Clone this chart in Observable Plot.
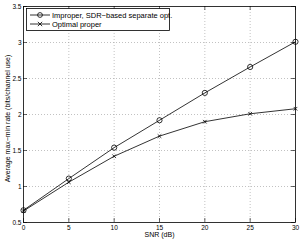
<!DOCTYPE html>
<html><head><meta charset="utf-8">
<script src="https://cdn.jsdelivr.net/npm/d3@7"></script>
<script src="https://cdn.jsdelivr.net/npm/@observablehq/plot@0.6"></script>
<style>
body{margin:0;background:#fff;}
#wrap{position:relative;width:302px;height:241px;font-family:"Liberation Sans",Arial,sans-serif;}
#legend{position:absolute;left:0;top:0;pointer-events:none;}
</style></head>
<body><div id="wrap"></div>
<script>
const snr = [0, 5, 10, 15, 20, 25, 30];
const improper = [0.67, 1.11, 1.54, 1.92, 2.30, 2.66, 3.01];
const optimal = [0.66, 1.06, 1.42, 1.70, 1.90, 2.01, 2.08];
const seriesNames = ["Improper, SDR\u2212based separate opt.", "Optimal proper"];
const xTicks = [0, 5, 10, 15, 20, 25, 30];
const yTicks = [0.5, 1, 1.5, 2, 2.5, 3, 3.5];

const W = 302, H = 241, mL = 23, mR = 7, mT = 6, mB = 19;
const pw = W - mL - mR, ph = H - mT - mB;
const rows = [];
snr.forEach((s, i) => { rows.push({snr: s, v: improper[i], s: seriesNames[0]}); rows.push({snr: s, v: optimal[i], s: seriesNames[1]}); });
const A = rows.filter(d => d.s === seriesNames[0]);
const B = rows.filter(d => d.s === seriesNames[1]);
const tk = 4;
const chart = Plot.plot({
  width: W, height: H, marginLeft: mL, marginRight: mR, marginTop: mT, marginBottom: mB,
  style: {fontFamily: '"Liberation Sans", Arial, sans-serif', fontSize: "7px", background: "#fff", overflow: "visible"},
  x: {domain: [0, 30]},
  y: {domain: [0.5, 3.5]},
  marks: [
    Plot.gridX(xTicks.slice(1, -1), {stroke: "#999", strokeOpacity: 1, strokeDasharray: "1,2", strokeWidth: 0.6}),
    Plot.gridY(yTicks.slice(1, -1), {stroke: "#999", strokeOpacity: 1, strokeDasharray: "1,2", strokeWidth: 0.6}),
    Plot.tickX(xTicks, {x: d => d, insetTop: ph - tk, stroke: "#000", strokeWidth: 0.6}),
    Plot.tickX(xTicks, {x: d => d, insetBottom: ph - tk, stroke: "#000", strokeWidth: 0.6}),
    Plot.tickY(yTicks, {y: d => d, insetRight: pw - tk, stroke: "#000", strokeWidth: 0.6}),
    Plot.tickY(yTicks, {y: d => d, insetLeft: pw - tk, stroke: "#000", strokeWidth: 0.6}),
    Plot.axisX(xTicks, {tickSize: 0, tickPadding: 3, fontSize: 6.5, label: null, tickFormat: d => String(d)}),
    Plot.axisY(yTicks, {tickSize: 0, tickPadding: 2, fontSize: 6.5, label: null, tickFormat: d => String(d)}),
    Plot.frame({stroke: "#000", strokeWidth: 0.8}),
    Plot.line(A, {x: "snr", y: "v", stroke: "#000", strokeWidth: 0.8}),
    Plot.line(B, {x: "snr", y: "v", stroke: "#000", strokeWidth: 0.8}),
    Plot.dot(A, {x: "snr", y: "v", symbol: "circle", r: 2.6, stroke: "#000", strokeWidth: 0.8, fill: "none"}),
    Plot.dot(B, {x: "snr", y: "v", symbol: "times", r: 1.8, stroke: "#000", strokeWidth: 0.8}),
    Plot.text(["SNR (dB)"], {frameAnchor: "bottom", dy: 14, fontSize: 7, text: d => d}),
    Plot.text(["Average max\u2212min rate (bits/channel use)"], {frameAnchor: "left", textAnchor: "middle", dx: -16, dy: 4, rotate: -90, fontSize: 7, text: d => d})
  ]
});
document.getElementById("wrap").appendChild(chart);

// legend overlay
const lg = d3.select("#wrap").append("svg").attr("id", "legend").attr("width", W).attr("height", H);
lg.append("rect").attr("x", 26.5).attr("y", 8.5).attr("width", 143).attr("height", 22).attr("fill", "#fff").attr("stroke", "#000").attr("stroke-width", 0.8);
seriesNames.forEach((name, i) => {
  const yy = 15 + i * 9;
  lg.append("line").attr("x1", 30).attr("x2", 50).attr("y1", yy).attr("y2", yy).attr("stroke", "#000").attr("stroke-width", 0.8);
  if (i === 0) lg.append("circle").attr("cx", 40).attr("cy", yy).attr("r", 2.4).attr("fill", "none").attr("stroke", "#000").attr("stroke-width", 0.8);
  else lg.append("path").attr("transform", `translate(40,${yy})`).attr("d", d3.symbol(d3.symbolTimes, 14)()).attr("stroke", "#000").attr("stroke-width", 0.8).attr("fill", "none");
  lg.append("text").attr("x", 52).attr("y", yy).attr("dy", "0.35em").attr("font-size", 7.5).attr("font-family", '"Liberation Sans", Arial, sans-serif').text(name);
});
</script></body></html>
